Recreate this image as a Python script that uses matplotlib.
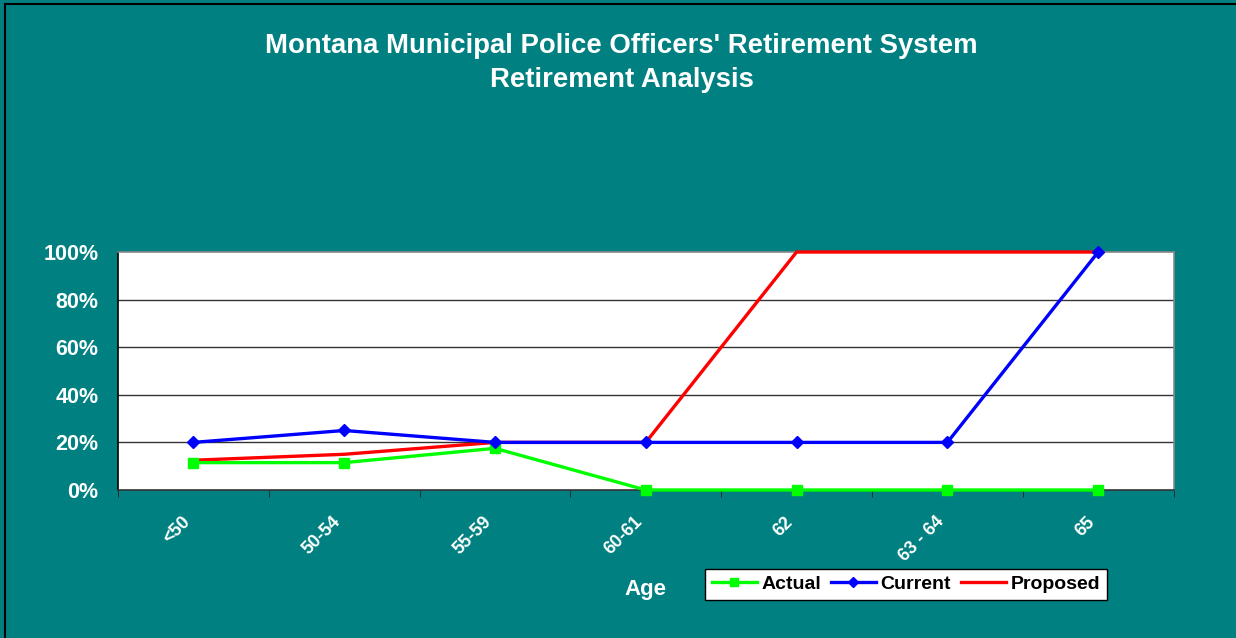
import matplotlib.pyplot as plt
import matplotlib.lines as mlines
import numpy as np

plt.rcParams['font.family'] = ['Liberation Sans', 'DejaVu Sans']
plt.rcParams['font.weight'] = 'bold'

# datos
edades = ['<50', '50-54', '55-59', '60-61', '62', '63 - 64', '65']
actual = [11.5, 11.5, 17.5, 0, 0, 0, 0]
current = [20, 25, 20, 20, 20, 20, 100]
proposed = [12.5, 15, 20, 20, 100, 100, 100]

teal = '#008080'
fig = plt.figure(figsize=(12.36, 6.38), dpi=100, facecolor=teal)
ax = fig.add_axes([0.0955, 0.232, 0.854, 0.373])
ax.set_facecolor('white')

x = np.arange(len(edades))
l_prop, = ax.plot(x, proposed, color='#ff0000', lw=2.4, label='Proposed', zorder=3, clip_on=False)
l_act, = ax.plot(x, actual, color='#00ff00', lw=2.4, marker='s', ms=7.5, label='Actual', zorder=4, clip_on=False)
l_cur, = ax.plot(x, current, color='#0000ff', lw=2.4, marker='D', ms=6.5, label='Current', zorder=5, clip_on=False)

ax.set_xlim(-0.5, len(edades) - 0.5)
ax.set_ylim(0, 100)
ax.set_yticks([0, 20, 40, 60, 80, 100])
ax.set_yticklabels(['0%', '20%', '40%', '60%', '80%', '100%'], color='white', fontsize=15.5, fontweight='bold')
ax.tick_params(axis='y', length=0, pad=14)

# etiquetas en el centro, ticks entre categorias
ax.set_xticks(x)
ax.set_xticklabels(edades, rotation=45, ha='right', va='top', color='white', fontsize=13, fontweight='bold')
ax.tick_params(axis='x', which='major', length=0, pad=17)
ax.set_xticks(np.arange(-0.5, len(edades)), minor=True)
ax.tick_params(axis='x', which='minor', length=5, color='#222222', direction='out')

for y in [20, 40, 60, 80]:
    ax.axhline(y, color='#333333', lw=1, zorder=1)

ax.spines['left'].set_color('black')
ax.spines['bottom'].set_color('#333333')
ax.spines['top'].set_color('#888888')
ax.spines['right'].set_color('#888888')
for s in ax.spines.values():
    s.set_linewidth(1.2)

fig.text(0.503, 0.928, "Montana Municipal Police Officers' Retirement System",
         ha='center', va='center', color='white', fontsize=19.8, fontweight='bold')
fig.text(0.503, 0.875, "Retirement Analysis",
         ha='center', va='center', color='white', fontsize=19.8, fontweight='bold')
fig.text(0.522, 0.076, 'Age', ha='center', va='center', color='white', fontsize=16, fontweight='bold')

leg = fig.legend(handles=[l_act, l_cur, l_prop], loc='center', bbox_to_anchor=(0.733, 0.084),
                 ncol=3, frameon=True, fancybox=False, edgecolor='black', facecolor='white',
                 framealpha=1, prop={'size': 14, 'weight': 'bold'}, handlelength=2.3,
                 handletextpad=0.25, columnspacing=0.5, borderpad=0.35, markerscale=0.85)
leg.get_frame().set_linewidth(1)

# borde negro del grafico
fig.add_artist(mlines.Line2D([0.004, 0.004], [0, 0.993], color='black', lw=1.5, transform=fig.transFigure))
fig.add_artist(mlines.Line2D([0.004, 1], [0.993, 0.993], color='black', lw=1.5, transform=fig.transFigure))

fig.savefig('out.png', dpi=100, facecolor=teal)
